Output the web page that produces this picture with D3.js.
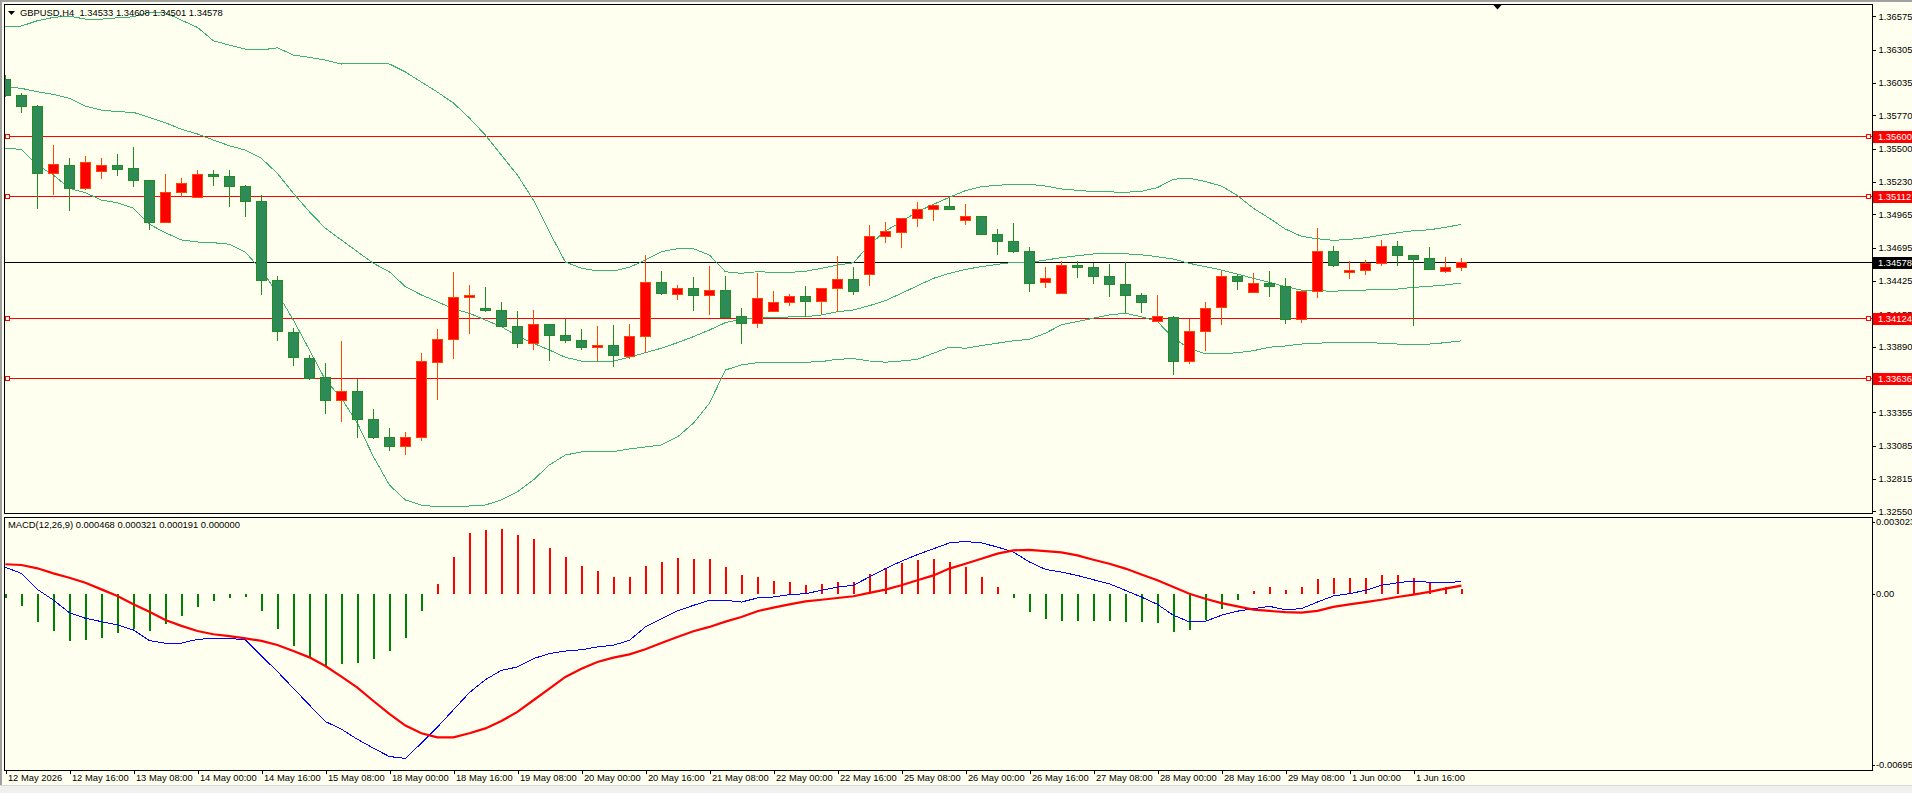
<!DOCTYPE html>
<html><head><meta charset="utf-8">
<script src="https://cdn.jsdelivr.net/npm/d3@7/dist/d3.min.js"></script>
<style>
html,body{margin:0;padding:0;background:#FFFFF0;overflow:hidden}
svg{display:block}
text{font-family:"Liberation Sans",Arial,sans-serif;font-size:9.4px;white-space:pre;}
</style></head><body>
<svg id="c" width="1912" height="793"></svg>
<script>
// ---------------- DATA ----------------
const symbolTitle = "GBPUSD,H4  1.34533 1.34608 1.34501 1.34578";
const macdTitle = "MACD(12,26,9) 0.000468 0.000321 0.000191 0.000000";

const open = [1.36058,1.35928,1.35846,1.35296,1.35366,1.35177,1.35315,1.35361,1.35340,1.35242,
1.34897,1.35141,1.35104,1.35291,1.35275,1.35194,1.35071,1.34429,1.34006,1.33795,
1.33637,1.33454,1.33527,1.33299,1.33147,1.33076,1.33153,1.33762,1.33949,1.34291,
1.34202,1.34185,1.34055,1.33914,1.34071,1.33982,1.33941,1.33884,1.33901,1.33808,
1.33974,1.34413,1.34316,1.34364,1.34307,1.34348,1.34136,1.34079,1.34177,1.34250,
1.34299,1.34258,1.34364,1.34437,1.34478,1.34787,1.34819,1.34933,1.35006,1.35031,
1.34912,1.34944,1.34803,1.34746,1.34665,1.34413,1.34323,1.34551,1.34535,1.34462,
1.34396,1.34307,1.34098,1.34127,1.33771,1.34014,1.34210,1.34462,1.34332,1.34405,
1.34380,1.34112,1.34340,1.34665,1.34494,1.34510,1.34567,1.34704,1.34632,1.34608,
1.34503,1.34533];
const high = [1.36098,1.35954,1.35854,1.35529,1.35423,1.35440,1.35423,1.35456,1.35513,1.35245,
1.35291,1.35261,1.35326,1.35326,1.35326,1.35202,1.35123,1.34464,1.34041,1.33822,
1.33757,1.33936,1.33624,1.33383,1.33228,1.33196,1.33836,1.34033,1.34497,1.34391,
1.34375,1.34253,1.34180,1.34188,1.34071,1.34115,1.34033,1.34058,1.34066,1.34074,
1.34635,1.34505,1.34391,1.34456,1.34545,1.34464,1.34201,1.34489,1.34342,1.34315,
1.34383,1.34366,1.34627,1.34537,1.34879,1.34903,1.34933,1.35066,1.35047,1.35098,
1.35049,1.34952,1.34844,1.34893,1.34697,1.34537,1.34584,1.34584,1.34572,1.34562,
1.34575,1.34323,1.34309,1.34141,1.34115,1.34250,1.34505,1.34478,1.34489,1.34505,
1.34448,1.34340,1.34854,1.34708,1.34586,1.34594,1.34755,1.34747,1.34632,1.34700,
1.34619,1.34608];
const low = [1.35922,1.35792,1.35011,1.35125,1.34995,1.35161,1.35256,1.35280,1.35184,1.34841,
1.34897,1.35104,1.35104,1.35199,1.35028,1.34946,1.34312,1.33938,1.33735,1.33619,
1.33345,1.33275,1.33149,1.33141,1.33044,1.33011,1.33125,1.33459,1.33792,1.33995,
1.34174,1.34052,1.33881,1.33865,1.33776,1.33922,1.33865,1.33773,1.33727,1.33792,
1.33835,1.34310,1.34272,1.34180,1.34147,1.34128,1.33914,1.34041,1.34177,1.34223,
1.34133,1.34158,1.34169,1.34312,1.34385,1.34735,1.34695,1.34865,1.34914,1.34998,
1.34875,1.34803,1.34637,1.34653,1.34336,1.34369,1.34323,1.34451,1.34402,1.34294,
1.34161,1.34166,1.34098,1.33662,1.33745,1.33856,1.34068,1.34353,1.34332,1.34294,
1.34076,1.34085,1.34288,1.34540,1.34440,1.34472,1.34548,1.34548,1.34060,1.34519,
1.34491,1.34501];
const close = [1.35930,1.35841,1.35296,1.35374,1.35174,1.35388,1.35361,1.35334,1.35242,1.34897,
1.35145,1.35218,1.35291,1.35275,1.35191,1.35068,1.34426,1.34011,1.33800,1.33629,
1.33454,1.33527,1.33299,1.33149,1.33076,1.33153,1.33771,1.33949,1.34291,1.34307,
1.34182,1.34052,1.33914,1.34071,1.33979,1.33938,1.33881,1.33901,1.33816,1.33974,
1.34413,1.34324,1.34364,1.34307,1.34348,1.34128,1.34079,1.34282,1.34250,1.34299,
1.34258,1.34364,1.34437,1.34340,1.34787,1.34828,1.34933,1.35006,1.35039,1.35006,
1.34944,1.34803,1.34746,1.34665,1.34405,1.34445,1.34551,1.34535,1.34462,1.34396,
1.34307,1.34250,1.34131,1.33771,1.34014,1.34202,1.34462,1.34421,1.34405,1.34380,
1.34112,1.34340,1.34665,1.34551,1.34510,1.34567,1.34704,1.34629,1.34600,1.34519,
1.34535,1.34578];

const bbUpper = [1.36497,1.36497,1.36540,1.36567,1.36578,1.36553,1.36553,1.36564,1.36572,1.36610,
1.36605,1.36545,1.36486,1.36377,1.36342,1.36310,1.36302,1.36320,1.36261,1.36242,
1.36220,1.36188,1.36196,1.36196,1.36188,1.36123,1.36041,1.35960,1.35871,1.35749,
1.35610,1.35447,1.35285,1.35082,1.34822,1.34578,1.34527,1.34505,1.34505,1.34535,
1.34594,1.34662,1.34686,1.34686,1.34635,1.34499,1.34486,1.34499,1.34494,1.34494,
1.34502,1.34527,1.34553,1.34572,1.34716,1.34830,1.34906,1.34987,1.35047,1.35104,
1.35158,1.35191,1.35202,1.35210,1.35210,1.35196,1.35172,1.35161,1.35150,1.35148,
1.35145,1.35153,1.35183,1.35251,1.35259,1.35232,1.35196,1.35118,1.35015,1.34933,
1.34846,1.34787,1.34767,1.34754,1.34762,1.34775,1.34797,1.34816,1.34832,1.34840,
1.34860,1.34884];
const bbMiddle = [1.36003,1.35990,1.35963,1.35941,1.35909,1.35846,1.35814,1.35800,1.35795,1.35754,
1.35711,1.35657,1.35619,1.35570,1.35523,1.35488,1.35421,1.35299,1.35136,1.34987,
1.34852,1.34757,1.34662,1.34567,1.34499,1.34377,1.34310,1.34255,1.34196,1.34161,
1.34106,1.34052,1.33976,1.33917,1.33862,1.33803,1.33773,1.33771,1.33773,1.33803,
1.33841,1.33877,1.33922,1.33971,1.34025,1.34085,1.34112,1.34120,1.34127,1.34131,
1.34133,1.34147,1.34174,1.34188,1.34223,1.34264,1.34323,1.34385,1.34445,1.34486,
1.34518,1.34540,1.34559,1.34575,1.34575,1.34594,1.34613,1.34629,1.34643,1.34647,
1.34645,1.34637,1.34621,1.34602,1.34567,1.34540,1.34513,1.34480,1.34445,1.34413,
1.34377,1.34350,1.34345,1.34340,1.34348,1.34350,1.34358,1.34358,1.34372,1.34380,
1.34391,1.34407];
const bbLower = [1.35502,1.35494,1.35366,1.35285,1.35177,1.35141,1.35082,1.35060,1.35015,1.34885,
1.34816,1.34757,1.34741,1.34735,1.34722,1.34657,1.34513,1.34324,1.34106,1.33863,
1.33619,1.33470,1.33267,1.32995,1.32765,1.32643,1.32602,1.32586,1.32586,1.32594,
1.32602,1.32643,1.32708,1.32806,1.32928,1.33009,1.33033,1.33036,1.33036,1.33058,
1.33074,1.33090,1.33155,1.33267,1.33429,1.33700,1.33741,1.33759,1.33763,1.33763,
1.33763,1.33768,1.33787,1.33792,1.33773,1.33763,1.33773,1.33787,1.33836,1.33885,
1.33877,1.33898,1.33918,1.33937,1.33950,1.33999,1.34067,1.34094,1.34121,1.34148,
1.34161,1.34133,1.34094,1.33958,1.33877,1.33830,1.33830,1.33841,1.33857,1.33885,
1.33895,1.33911,1.33917,1.33925,1.33925,1.33925,1.33917,1.33911,1.33911,1.33911,
1.33922,1.33937];

const macdHist = [-0.00018,-0.00047,-0.00110,-0.00146,-0.00185,-0.00181,-0.00173,-0.00154,-0.00138,-0.00146,
-0.00118,-0.00087,-0.00051,-0.00028,-0.00016,-0.00012,-0.00067,-0.00138,-0.00205,-0.00252,
-0.00288,-0.00276,-0.00272,-0.00256,-0.00225,-0.00173,-0.00067,0.00039,0.00146,0.00239,
0.00252,0.00255,0.00232,0.00216,0.00180,0.00145,0.00109,0.00089,0.00066,0.00066,
0.00109,0.00125,0.00141,0.00137,0.00137,0.00105,0.00075,0.00066,0.00050,0.00046,
0.00035,0.00039,0.00046,0.00046,0.00076,0.00101,0.00121,0.00134,0.00137,0.00125,
0.00105,0.00066,0.00026,-0.00016,-0.00072,-0.00099,-0.00108,-0.00108,-0.00108,-0.00108,
-0.00111,-0.00111,-0.00115,-0.00151,-0.00142,-0.00105,-0.00059,-0.00024,0.00011,0.00026,
0.00016,0.00026,0.00059,0.00063,0.00062,0.00062,0.00073,0.00073,0.00062,0.00042,
0.00026,0.000191];
const macdMain = [0.00104,0.00080,0.00017,-0.00025,-0.00075,-0.00097,-0.00110,-0.00123,-0.00143,-0.00185,
-0.00195,-0.00195,-0.00180,-0.00176,-0.00176,-0.00182,-0.00245,-0.00307,-0.00373,-0.00439,
-0.00504,-0.00534,-0.00574,-0.00609,-0.00642,-0.00649,-0.00589,-0.00526,-0.00458,-0.00390,
-0.00339,-0.00302,-0.00289,-0.00256,-0.00236,-0.00226,-0.00221,-0.00210,-0.00203,-0.00184,
-0.00131,-0.00099,-0.00068,-0.00046,-0.00026,-0.00026,-0.00033,-0.00017,-0.00013,-0.00004,
0.00000,0.00013,0.00026,0.00033,0.00066,0.00099,0.00128,0.00154,0.00177,0.00200,
0.00206,0.00200,0.00184,0.00164,0.00125,0.00096,0.00085,0.00072,0.00055,0.00039,
0.00013,-0.00013,-0.00042,-0.00085,-0.00111,-0.00109,-0.00085,-0.00069,-0.00059,-0.00050,
-0.00063,-0.00059,-0.00033,-0.00009,0.00000,0.00013,0.00033,0.00043,0.00050,0.00045,
0.00045,0.000468];
const macdSignal = [0.00116,0.00113,0.00100,0.00080,0.00063,0.00043,0.00017,-0.00009,-0.00042,-0.00071,
-0.00104,-0.00127,-0.00147,-0.00160,-0.00167,-0.00176,-0.00186,-0.00202,-0.00226,-0.00251,
-0.00285,-0.00327,-0.00370,-0.00423,-0.00474,-0.00520,-0.00550,-0.00566,-0.00566,-0.00550,
-0.00531,-0.00502,-0.00466,-0.00420,-0.00374,-0.00328,-0.00296,-0.00269,-0.00252,-0.00239,
-0.00219,-0.00194,-0.00171,-0.00148,-0.00131,-0.00110,-0.00092,-0.00069,-0.00055,-0.00042,
-0.00030,-0.00024,-0.00017,-0.00010,0.00003,0.00016,0.00033,0.00053,0.00072,0.00099,
0.00118,0.00138,0.00158,0.00171,0.00173,0.00168,0.00163,0.00151,0.00134,0.00118,
0.00099,0.00076,0.00053,0.00026,0.00000,-0.00020,-0.00037,-0.00050,-0.00063,-0.00068,
-0.00073,-0.00075,-0.00068,-0.00052,-0.00042,-0.00033,-0.00024,-0.00013,-0.00004,0.00007,
0.00020,0.000321];

const priceTicks = [1.36575,1.36305,1.36035,1.35770,1.35500,1.35230,1.34965,1.34695,1.34425,1.34155,1.33890,1.33620,1.33355,1.33085,1.32815,1.32550];
const levelPrices = [1.35600,1.35112,1.34124,1.33636];
const bidPrice = 1.34578;
const macdTicks = [0.003023, 0, -0.00695];
const macdTickLabels = ["0.003023", "0.00", "-0.00695"];
const timeTickIdx = [0,4,8,12,16,20,24,28,32,36,40,44,48,52,56,60,64,68,72,76,80,84,88];
const timeTickLabels = ["12 May 2026","12 May 16:00","13 May 08:00","14 May 00:00","14 May 16:00","15 May 08:00",
"18 May 00:00","18 May 16:00","19 May 08:00","20 May 00:00","20 May 16:00","21 May 08:00","22 May 00:00",
"22 May 16:00","25 May 08:00","26 May 00:00","26 May 16:00","27 May 08:00","28 May 00:00","28 May 16:00",
"29 May 08:00","1 Jun 00:00","1 Jun 16:00"];

// ---------------- LAYOUT ----------------
const W = 1912, H = 793;
const L = 4, R = 1872;
const mainTop = 4, mainBottom = 513;
const macdTop = 517, macdBottom = 770;
const barStep = 16, firstBarX = 5.4;
const n = close.length;
const BG = "#FFFFF0";
const FONT = '"Liberation Sans",Arial,sans-serif';

const svg = d3.select("#c");
svg.append("rect").attr("width", W).attr("height", H).attr("fill", BG);

const x = d3.scaleLinear().domain([0, n - 1]).range([firstBarX, firstBarX + barStep * (n - 1)]);
const y = d3.scaleLinear().domain([1.32537, 1.36676]).range([mainBottom, mainTop]);
const ym = d3.scaleLinear().domain([-0.00695, 0.003023]).range([macdBottom, macdTop]);

const defs = svg.append("defs");
defs.append("clipPath").attr("id", "clipMain").append("rect")
  .attr("x", L + 0.5).attr("y", mainTop).attr("width", R - L - 0.5).attr("height", mainBottom - mainTop);
defs.append("clipPath").attr("id", "clipMacd").append("rect")
  .attr("x", L + 0.5).attr("y", macdTop).attr("width", R - L - 0.5).attr("height", macdBottom - macdTop);

// window borders
svg.append("rect").attr("x", 0).attr("y", 0).attr("width", W).attr("height", 2).attr("fill", "#A0A0A0");
svg.append("rect").attr("x", 0).attr("y", 0).attr("width", 2).attr("height", H).attr("fill", "#A0A0A0");
svg.append("rect").attr("x", 0).attr("y", 785).attr("width", W).attr("height", 8).attr("fill", "#F0F0F0");
svg.append("line").attr("x1", 0).attr("x2", W).attr("y1", 785.5).attr("y2", 785.5).attr("stroke", "#D8D8D8");

// ---------------- MAIN PANE ----------------
const gMain = svg.append("g").attr("clip-path", "url(#clipMain)");

// horizontal level lines
const lvl = gMain.append("g").attr("shape-rendering", "crispEdges");
levelPrices.forEach(p => {
  const yy = Math.round(y(p)) + 0.5;
  lvl.append("line").attr("x1", L).attr("x2", R).attr("y1", yy).attr("y2", yy).attr("stroke", "#FF0000");
  lvl.append("rect").attr("x", 5.5).attr("y", yy - 2).attr("width", 4).attr("height", 4)
    .attr("fill", BG).attr("stroke", "#FF0000");
  lvl.append("rect").attr("x", R - 5.5).attr("y", yy - 2).attr("width", 4).attr("height", 4)
    .attr("fill", BG).attr("stroke", "#FF0000");
});
// bid line
const by = Math.round(y(bidPrice)) + 0.5;
gMain.append("line").attr("x1", L).attr("x2", R).attr("y1", by).attr("y2", by)
  .attr("stroke", "#000").attr("shape-rendering", "crispEdges");

// Bollinger bands
const bandLine = arr => d3.line().x((d, i) => x(i)).y(d => y(d))(arr);
[bbUpper, bbMiddle, bbLower].forEach(arr => {
  gMain.append("path").attr("d", bandLine(arr)).attr("fill", "none")
    .attr("stroke", "#3CB371").attr("stroke-width", 1).attr("shape-rendering", "crispEdges");
});

// candles
const idx = d3.range(n);
const isBull = i => close[i] > open[i];
const cg = gMain.append("g").attr("shape-rendering", "crispEdges");
cg.selectAll("line.wick").data(idx).join("line")
  .attr("x1", i => Math.round(x(i)) + 0.5).attr("x2", i => Math.round(x(i)) + 0.5)
  .attr("y1", i => y(high[i])).attr("y2", i => y(low[i]))
  .attr("stroke", i => isBull(i) ? "#FF4500" : "#228B22");
cg.selectAll("rect.body").data(idx).join("rect")
  .attr("x", i => Math.round(x(i)) - 4.5)
  .attr("width", 10)
  .attr("y", i => y(Math.max(open[i], close[i])))
  .attr("height", i => Math.max(1, Math.abs(y(open[i]) - y(close[i]))))
  .attr("fill", i => isBull(i) ? "#FF0000" : "#2E8B57")
  .attr("stroke", i => isBull(i) ? "#FF4500" : "#228B22");

// frame
svg.append("rect").attr("x", L + 0.5).attr("y", mainTop + 0.5).attr("width", R - L).attr("height", mainBottom - mainTop)
  .attr("fill", "none").attr("stroke", "#000").attr("shape-rendering", "crispEdges");

// title
svg.append("path").attr("d", "M8,11 L15,11 L11.5,15 Z").attr("fill", "#000");
svg.append("text").attr("x", 20).attr("y", 15.5).attr("fill", "#000").text(symbolTitle);

// shift marker
svg.append("path").attr("d", `M1493,4.5 L1502,4.5 L1497.5,9.5 Z`).attr("fill", "#000");

// price axis
const yAxis = d3.axisRight(y).tickValues(priceTicks).tickSize(3).tickPadding(3).tickFormat(d3.format(".5f"));
const gy = svg.append("g").attr("transform", `translate(${R + 0.5},0)`).call(yAxis);
gy.select(".domain").remove();
gy.selectAll("text").attr("font-size", "9.4px").attr("font-family", FONT).attr("fill", "#000");
gy.selectAll("line").attr("stroke", "#000").attr("shape-rendering", "crispEdges");

// price labels for levels and bid
function priceLabel(p, bg) {
  const yy = Math.round(y(p)) + 0.5;
  svg.append("rect").attr("x", R + 1).attr("y", yy - 6).attr("width", W - R - 1).attr("height", 12)
    .attr("fill", bg).attr("shape-rendering", "crispEdges");
  svg.append("text").attr("x", R + 6).attr("y", yy + 3.3).attr("fill", "#fff").text(d3.format(".5f")(p));
}
levelPrices.forEach(p => priceLabel(p, "#FF0000"));
priceLabel(bidPrice, "#000");

// ---------------- MACD PANE ----------------
const gM = svg.append("g").attr("clip-path", "url(#clipMacd)");
gM.selectAll("line.h").data(idx).join("line")
  .attr("x1", i => Math.round(x(i)) + 0.5).attr("x2", i => Math.round(x(i)) + 0.5)
  .attr("y1", ym(0)).attr("y2", i => ym(macdHist[i]))
  .attr("stroke", i => macdHist[i] >= 0 ? "#FF0000" : "#008000").attr("stroke-width", 2)
  .attr("shape-rendering", "crispEdges");
gM.append("path").attr("d", d3.line().x((d, i) => x(i)).y(d => ym(d))(macdMain))
  .attr("fill", "none").attr("stroke", "#0000FF").attr("stroke-width", 1).attr("shape-rendering", "crispEdges");
gM.append("path").attr("d", d3.line().x((d, i) => x(i)).y(d => ym(d))(macdSignal))
  .attr("fill", "none").attr("stroke", "#FF0000").attr("stroke-width", 2.2);

svg.append("rect").attr("x", L + 0.5).attr("y", macdTop + 0.5).attr("width", R - L).attr("height", macdBottom - macdTop)
  .attr("fill", "none").attr("stroke", "#000").attr("shape-rendering", "crispEdges");
svg.append("text").attr("x", 8).attr("y", 527.5).attr("fill", "#000").text(macdTitle);

// MACD axis
const gma = svg.append("g");
macdTicks.forEach((v, k) => {
  const yy = Math.min(Math.max(ym(v), macdTop + 5), macdBottom - 5);
  gma.append("line").attr("x1", R).attr("x2", R + 3).attr("y1", Math.round(yy) + 0.5).attr("y2", Math.round(yy) + 0.5)
    .attr("stroke", "#000").attr("shape-rendering", "crispEdges");
  gma.append("text").attr("x", R + 4).attr("y", yy + 3.3).attr("fill", "#000").text(macdTickLabels[k]);
});

// ---------------- TIME AXIS ----------------
const xAxis = d3.axisBottom(x).tickValues(timeTickIdx).tickSize(3).tickPadding(2)
  .tickFormat((d, k) => timeTickLabels[k]);
const gx = svg.append("g").attr("transform", `translate(0,${macdBottom + 0.5})`).call(xAxis);
gx.select(".domain").remove();
gx.selectAll(".tick line").attr("stroke", "#000").attr("shape-rendering", "crispEdges")
  .attr("transform", "translate(0.5,0)");
gx.selectAll(".tick text").attr("text-anchor", "start").attr("dx", 2).attr("dy", "0.55em")
  .attr("font-size", "9.4px").attr("font-family", FONT).attr("fill", "#000");
</script>
</body></html>
